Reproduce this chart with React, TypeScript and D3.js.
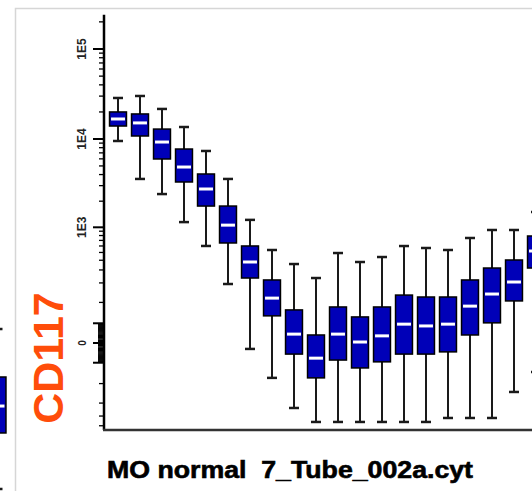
import React from 'react';
import * as d3 from 'd3';

// ---- data ----
const categories = ['1', '2', '3', '4', '5', '6', '7', '8', '9', '10', '11', '12', '13', '14', '15', '16', '17', '18', '19', '20'];
const whiskerHigh = [28600, 30100, 21600, 13600, 7350, 3570, 1220, 536, 358, 234, 492, 380, 439, 599, 567, 536, 748, 930, 930, 1500];
const q3 = [20000, 19000, 12900, 7730, 4060, 1760, 600, 220, 73, 12.5, 83, 52, 83, 132, 123, 123, 220, 318, 403, 790];
const medians = [16700, 15100, 9250, 4860, 2750, 1060, 380, 118, 14, -26, 14, 1.4, 11, 34, 30, 34, 86, 137, 206, 521];
const q1 = [13950, 10800, 5980, 3300, 1760, 652, 234, 55, -18, -79, -30, -49, -34, -18, -18, -14, 12.5, 37, 106, 318];
const whiskerLow = [9500, 3570, 2410, 1150, 600, 193, -9, -79, -234, -358, -358, -358, -358, -358, -358, -318, -318, -318, -137, -60];

// partial box of the neighbouring panel (left edge)
const neighborHigh = [23.6];
const neighborQ3 = [-76];
const neighborMedian = [-220];
const neighborQ1 = [-492];
const neighborLow = [-2231];

const majorTicks = [100000, 10000, 1000, 0];
const majorTickLabels = ['1E5', '1E4', '1E3', '0'];
const minorTicks = [
  200000,
  90000, 80000, 70000, 60000, 50000, 40000, 30000, 20000,
  9000, 8000, 7000, 6000, 5000, 4000, 3000, 2000,
  900, 800, 700, 600, 500, 400, 300, 200, 100,
  -100, -200, -300, -400,
];
const linearEdge = 36;
const yDomain = [-452, 240000];

const axisTitle = 'CD117';
const chartTitle = 'MO normal  7_Tube_002a.cyt';

// ---- layout ----
const W = 532;
const H = 491;
const axisX = 104;
const step = 22;
const pInner = 0.23;
const firstCenter = 118;

export default function App() {
  const y = d3.scaleSymlog().constant(55).domain([0, 100000]).range([343, 49]);

  const bandStart = firstCenter - (step * (1 - pInner)) / 2;
  const x = d3
    .scaleBand<string>()
    .domain(categories)
    .range([bandStart, bandStart + step * (categories.length - pInner)])
    .paddingInner(pInner)
    .paddingOuter(0);
  const bw = x.bandwidth();
  const capW = 10;

  const yTop = y(yDomain[1]);
  const yBot = y(yDomain[0]);
  const denseTicks = d3.range(-linearEdge + 2, linearEdge - 1, 2);

  const font = "'Liberation Sans', Arial, sans-serif";

  const drawBox = (cx: number, hi: number, top: number, med: number, bot: number, lo: number, key: string) => (
    <g key={key}>
      <line x1={cx} x2={cx} y1={y(hi)} y2={y(top)} stroke="#1a1a1a" strokeWidth={2} />
      <line x1={cx} x2={cx} y1={y(bot)} y2={y(lo)} stroke="#1a1a1a" strokeWidth={2} />
      <line x1={cx - capW / 2} x2={cx + capW / 2} y1={y(hi)} y2={y(hi)} stroke="#1a1a1a" strokeWidth={2.5} />
      <line x1={cx - capW / 2} x2={cx + capW / 2} y1={y(lo)} y2={y(lo)} stroke="#1a1a1a" strokeWidth={2.5} />
      <rect x={cx - bw / 2} y={y(top)} width={bw} height={y(bot) - y(top)} fill="#0000b8" stroke="#000" strokeWidth={1.5} />
      <line x1={cx - bw / 2 + 1.5} x2={cx + bw / 2 - 1.5} y1={y(med)} y2={y(med)} stroke="#fff" strokeWidth={3} />
    </g>
  );

  return (
    <svg width={W} height={H} style={{ position: 'absolute', left: 0, top: 0, display: 'block', background: '#fff' }}>
      <rect x={0} y={0} width={W} height={H} fill="#fff" />
      {/* neighbouring panel fragment */}
      {drawBox(-2.5, neighborHigh[0], neighborQ3[0], neighborMedian[0], neighborQ1[0], neighborLow[0], 'nb')}
      <rect x={15.5} y={8.5} width={W} height={H} fill="#fff" stroke="#d6d6d6" strokeWidth={1.5} />

      {/* y axis */}
      <line x1={axisX} x2={axisX} y1={yTop} y2={yBot} stroke="#000" strokeWidth={2.5} />
      {minorTicks.map((t) => (
        <line key={'mi' + t} x1={axisX - 5} x2={axisX} y1={y(t)} y2={y(t)} stroke="#000" strokeWidth={1.3} />
      ))}
      {denseTicks.map((t) => (
        <line key={'de' + t} x1={axisX - 6} x2={axisX} y1={y(t)} y2={y(t)} stroke="#000" strokeWidth={1.5} />
      ))}
      {[-linearEdge, linearEdge].map((t) => (
        <line key={'le' + t} x1={axisX - 11} x2={axisX} y1={y(t)} y2={y(t)} stroke="#000" strokeWidth={2} />
      ))}
      {majorTicks.map((t, i) => (
        <g key={'ma' + t}>
          <line x1={axisX - 11} x2={axisX} y1={y(t)} y2={y(t)} stroke="#000" strokeWidth={2} />
          <text
            transform={`translate(82,${y(t)}) rotate(-90)`}
            textAnchor="middle"
            dominantBaseline="central"
            fontFamily={font}
            fontWeight="bold"
            fontSize={i === 3 ? 10 : 12}
            fill="#222"
          >
            {majorTickLabels[i]}
          </text>
        </g>
      ))}

      {/* x axis */}
      <line x1={axisX - 1} x2={W} y1={yBot} y2={yBot} stroke="#333" strokeWidth={2.5} />

      {/* boxes */}
      {categories.map((c, i) =>
        drawBox((x(c) as number) + bw / 2, whiskerHigh[i], q3[i], medians[i], q1[i], whiskerLow[i], c)
      )}

      {/* axis title */}
      <text
        transform="translate(48,358) rotate(-90)"
        textAnchor="middle"
        dominantBaseline="central"
        fontFamily={font}
        fontWeight="bold"
        fontSize={43}
        fill="#ff4d0a"
      >
        {axisTitle}
      </text>

      {/* chart title */}
      <text
        x={107}
        y={478}
        fontFamily={font}
        fontWeight="bold"
        fontSize={23}
        fill="#000"
        stroke="#000"
        strokeWidth={0.6}
        textLength={366}
        lengthAdjust="spacingAndGlyphs"
        style={{ whiteSpace: 'pre' }}
      >
        {chartTitle}
      </text>
    </svg>
  );
}
